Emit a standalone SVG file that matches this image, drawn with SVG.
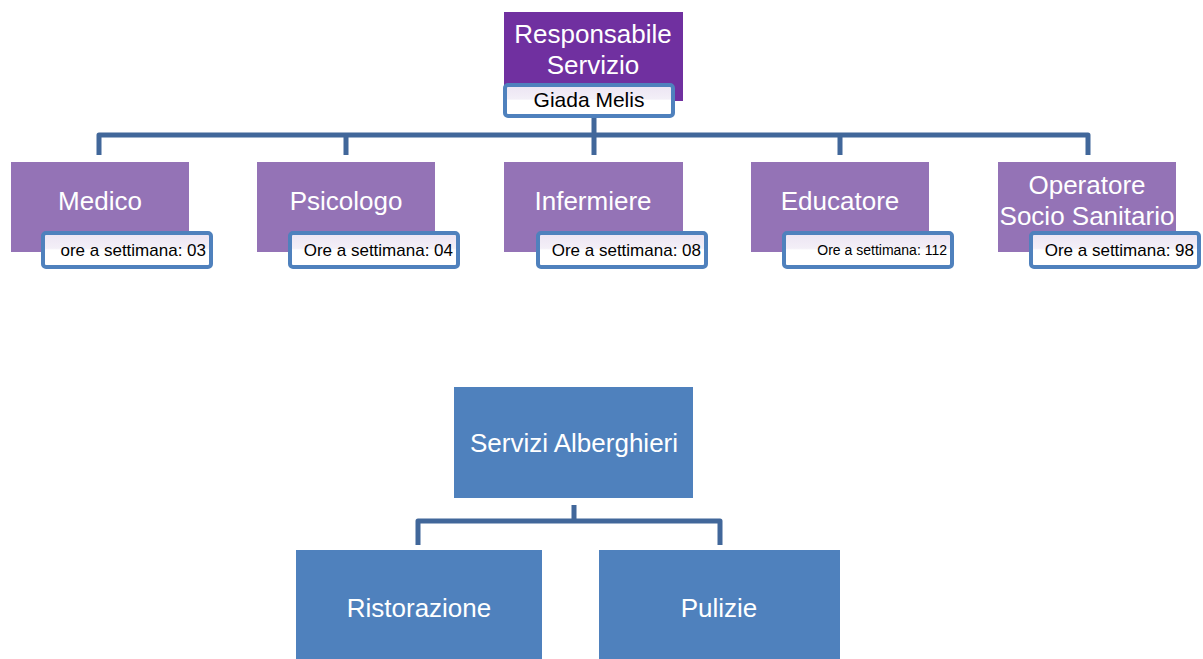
<svg xmlns="http://www.w3.org/2000/svg" width="1203" height="659" viewBox="0 0 1203 659">
<defs>
<linearGradient id="sub" x1="0" y1="0" x2="0" y2="1">
<stop offset="0" stop-color="#ece4f3"/>
<stop offset="0.45" stop-color="#f3eff7"/>
<stop offset="0.5" stop-color="#ffffff"/>
<stop offset="1" stop-color="#ffffff"/>
</linearGradient>
</defs>
<style>
.conn{fill:none;stroke:#41679a;stroke-width:5;stroke-linejoin:round}
.role{fill:#9473b6}
.head{fill:#7030a0}
.blue{fill:#4f81bd}
.sub{fill:url(#sub);stroke:#4f81bd;stroke-width:4}
.lbl{font-family:"Liberation Sans",Arial,sans-serif;font-size:26px;fill:#ffffff;text-anchor:middle}
.st{font-family:"Liberation Sans",Arial,sans-serif;font-size:17px;fill:#000000;text-anchor:end}
</style>
<rect width="1203" height="659" fill="#ffffff"/>
<g id="connectors">
<path class="conn" d="M594 116 V135 M99 155 V135 H1088 V155 M346 135 V155 M594 135 V155 M840 135 V155"/>
<path class="conn" d="M574 505 V521 M418 545 V521 H720 V545"/>
</g>
<g id="responsabile">
<rect class="head" x="504" y="12" width="179" height="89"/>
<text class="lbl" x="593" y="43">Responsabile</text>
<text class="lbl" x="593" y="74">Servizio</text>
<rect class="sub" x="505" y="85" width="168" height="31" rx="3"/>
<text x="589" y="107" style="font-family:'Liberation Sans',Arial,sans-serif;font-size:21px;fill:#000;text-anchor:middle">Giada Melis</text>
</g>
<g id="medico">
<rect class="role" x="11" y="162" width="178" height="90"/>
<text class="lbl" x="100" y="210">Medico</text>
<rect class="sub" x="43" y="233" width="168" height="34" rx="3"/>
<text class="st" x="206" y="256">ore a settimana: 03</text>
</g>
<g id="psicologo">
<rect class="role" x="257" y="162" width="178" height="90"/>
<text class="lbl" x="346" y="210">Psicologo</text>
<rect class="sub" x="290" y="233" width="168" height="34" rx="3"/>
<text class="st" x="453" y="256">Ore a settimana: 04</text>
</g>
<g id="infermiere">
<rect class="role" x="504" y="162" width="179" height="90"/>
<text class="lbl" x="593" y="210">Infermiere</text>
<rect class="sub" x="538" y="233" width="168" height="34" rx="3"/>
<text class="st" x="701" y="256">Ore a settimana: 08</text>
</g>
<g id="educatore">
<rect class="role" x="751" y="162" width="178" height="90"/>
<text class="lbl" x="840" y="210">Educatore</text>
<rect class="sub" x="784" y="233" width="168" height="34" rx="3"/>
<text class="st" x="947" y="255" style="font-size:14px">Ore a settimana: 112</text>
</g>
<g id="operatore">
<rect class="role" x="998" y="162" width="178" height="90"/>
<text class="lbl" x="1087" y="194">Operatore</text>
<text class="lbl" x="1087" y="225">Socio Sanitario</text>
<rect class="sub" x="1031" y="233" width="168" height="34" rx="3"/>
<text class="st" x="1194" y="256">Ore a settimana: 98</text>
</g>
<g id="servizi-alberghieri">
<rect class="blue" x="454" y="387" width="239" height="111"/>
<text class="lbl" x="574" y="452">Servizi Alberghieri</text>
</g>
<g id="ristorazione">
<rect class="blue" x="296" y="550" width="246" height="109"/>
<text class="lbl" x="419" y="617">Ristorazione</text>
</g>
<g id="pulizie">
<rect class="blue" x="599" y="550" width="241" height="109"/>
<text class="lbl" x="719" y="617">Pulizie</text>
</g>
</svg>
